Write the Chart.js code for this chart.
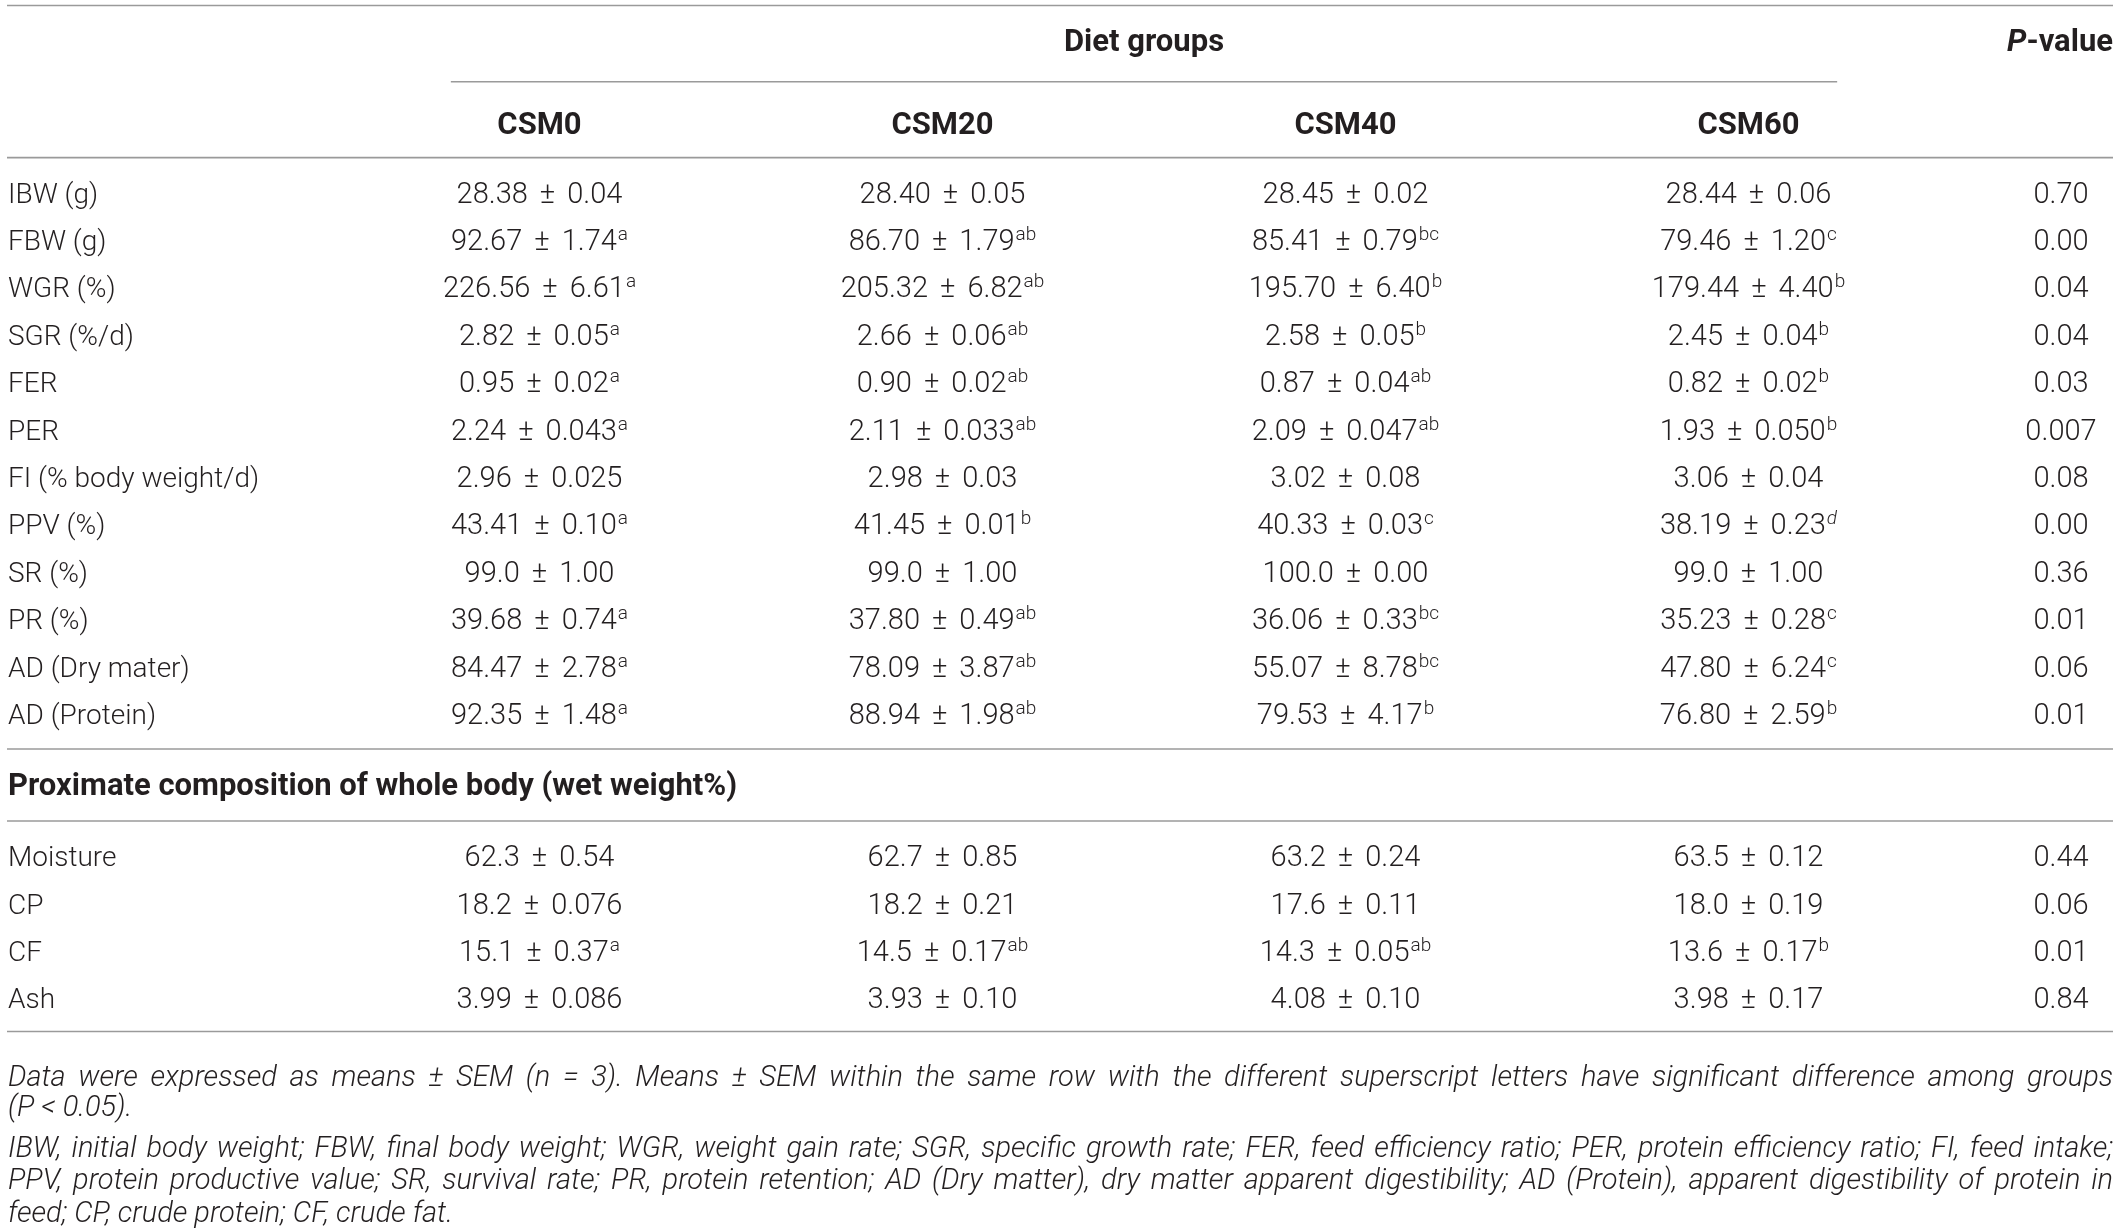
<!DOCTYPE html>
<html>
<head>
<meta charset="utf-8">
<title>Growth performance table</title>
<script src="https://cdn.jsdelivr.net/npm/chart.js@4.4.1/dist/chart.umd.min.js"></script>
<style>
  html, body { margin: 0; padding: 0; background: #ffffff; }
  #wrap { width: 2119px; height: 1232px; position: relative; }
</style>
</head>
<body>
<div id="wrap"><canvas id="tableChart"></canvas></div>
<script>
// table content
const groups = ['CSM0', 'CSM20', 'CSM40', 'CSM60'];
const growthRows = ['IBW (g)', 'FBW (g)', 'WGR (%)', 'SGR (%/d)', 'FER', 'PER', 'FI (% body weight/d)',
    'PPV (%)', 'SR (%)', 'PR (%)', 'AD (Dry mater)', 'AD (Protein)'];
const bodyRows = ['Moisture', 'CP', 'CF', 'Ash'];
const sectionTitle = 'Proximate composition of whole body (wet weight%)';

const csm0Mean = ['28.38', '92.67', '226.56', '2.82', '0.95', '2.24', '2.96', '43.41', '99.0', '39.68', '84.47', '92.35', '62.3', '18.2', '15.1', '3.99'];
const csm0Sem = ['0.04', '1.74', '6.61', '0.05', '0.02', '0.043', '0.025', '0.10', '1.00', '0.74', '2.78', '1.48', '0.54', '0.076', '0.37', '0.086'];
const csm0Sig = ['', 'a', 'a', 'a', 'a', 'a', '', 'a', '', 'a', 'a', 'a', '', '', 'a', ''];

const csm20Mean = ['28.40', '86.70', '205.32', '2.66', '0.90', '2.11', '2.98', '41.45', '99.0', '37.80', '78.09', '88.94', '62.7', '18.2', '14.5', '3.93'];
const csm20Sem = ['0.05', '1.79', '6.82', '0.06', '0.02', '0.033', '0.03', '0.01', '1.00', '0.49', '3.87', '1.98', '0.85', '0.21', '0.17', '0.10'];
const csm20Sig = ['', 'ab', 'ab', 'ab', 'ab', 'ab', '', 'b', '', 'ab', 'ab', 'ab', '', '', 'ab', ''];

const csm40Mean = ['28.45', '85.41', '195.70', '2.58', '0.87', '2.09', '3.02', '40.33', '100.0', '36.06', '55.07', '79.53', '63.2', '17.6', '14.3', '4.08'];
const csm40Sem = ['0.02', '0.79', '6.40', '0.05', '0.04', '0.047', '0.08', '0.03', '0.00', '0.33', '8.78', '4.17', '0.24', '0.11', '0.05', '0.10'];
const csm40Sig = ['', 'bc', 'b', 'b', 'ab', 'ab', '', 'c', '', 'bc', 'bc', 'b', '', '', 'ab', ''];

const csm60Mean = ['28.44', '79.46', '179.44', '2.45', '0.82', '1.93', '3.06', '38.19', '99.0', '35.23', '47.80', '76.80', '63.5', '18.0', '13.6', '3.98'];
const csm60Sem = ['0.06', '1.20', '4.40', '0.04', '0.02', '0.050', '0.04', '0.23', '1.00', '0.28', '6.24', '2.59', '0.12', '0.19', '0.17', '0.17'];
const csm60Sig = ['', 'c', 'b', 'b', 'b', 'b', '', 'd', '', 'c', 'c', 'b', '', '', 'b', ''];

const pValues = ['0.70', '0.00', '0.04', '0.04', '0.03', '0.007', '0.08', '0.00', '0.36', '0.01', '0.06', '0.01', '0.44', '0.06', '0.01', '0.84'];

const footnotes = [
    'Data were expressed as means \u00b1 SEM (n = 3). Means \u00b1 SEM within the same row with the different superscript letters have significant difference among groups',
    '(P < 0.05).',
    'IBW, initial body weight; FBW, final body weight; WGR, weight gain rate; SGR, specific growth rate; FER, feed efficiency ratio; PER, protein efficiency ratio; FI, feed intake;',
    'PPV, protein productive value; SR, survival rate; PR, protein retention; AD (Dry matter), dry matter apparent digestibility; AD (Protein), apparent digestibility of protein in',
    'feed; CP, crude protein; CF, crude fat.'
];
const justifiedNotes = [true, false, true, true, false];

const means = [csm0Mean, csm20Mean, csm40Mean, csm60Mean];
const sems = [csm0Sem, csm20Sem, csm40Sem, csm60Sem];
const sigs = [csm0Sig, csm20Sig, csm40Sig, csm60Sig];

// y slots: growth rows, two spacer slots for the section break, body rows
const rowSlots = growthRows.concat(['gap1', 'gap2'], bodyRows);
const dataRows = growthRows.concat(bodyRows);

const TEXT = '#231f20';
const RULE = '#9a9a9a';
const FONT = 'Roboto, "Liberation Sans", sans-serif';
const LIGHT = '300 28px ' + FONT;
const NUM = '300 29px ' + FONT;
const BOLD = 'bold 31px ' + FONT;

function drawRule(ctx, x0, x1, y) {
    ctx.save();
    ctx.strokeStyle = RULE;
    ctx.lineWidth = 1.6;
    ctx.beginPath();
    ctx.moveTo(x0, y);
    ctx.lineTo(x1, y);
    ctx.stroke();
    ctx.restore();
}

// text whose visual centre sits on y
function textAt(ctx, str, x, y, font, align) {
    ctx.font = font;
    ctx.textAlign = align;
    ctx.textBaseline = 'alphabetic';
    ctx.fillText(str, x, y + 10);
}

// value text "mean ± sem" with optional superscript letters, centred on x
function drawCell(ctx, x, y, mean, sem, sig, italicSig) {
    const gap = 12;
    ctx.font = NUM;
    const wMean = ctx.measureText(mean).width;
    const wPm = ctx.measureText('\u00b1').width;
    const wSem = ctx.measureText(sem).width;
    const wMain = wMean + gap + wPm + gap + wSem;
    const supFont = (italicSig ? 'italic ' : '') + '300 19px ' + FONT;
    ctx.font = supFont;
    const wSup = sig ? ctx.measureText(sig).width + 1 : 0;
    let cx = x - (wMain + wSup) / 2;
    ctx.textAlign = 'left';
    ctx.textBaseline = 'alphabetic';
    ctx.font = NUM;
    ctx.fillText(mean, cx, y + 10);
    cx += wMean + gap;
    ctx.fillText('\u00b1', cx, y + 10);
    cx += wPm + gap;
    ctx.fillText(sem, cx, y + 10);
    cx += wSem;
    if (sig) {
        ctx.font = supFont;
        ctx.fillText(sig, cx + 1, y);
    }
}

function drawJustified(ctx, text, x0, x1, y) {
    const words = text.split(' ');
    const widths = words.map(w => ctx.measureText(w).width);
    const total = widths.reduce((a, b) => a + b, 0);
    const gap = (x1 - x0 - total) / (words.length - 1);
    let x = x0;
    words.forEach((w, i) => {
        ctx.fillText(w, x, y);
        x += widths[i] + gap;
    });
}

const tablePlugin = {
    id: 'tableText',
    afterDraw(chart) {
        const ctx = chart.ctx;
        const xs = chart.scales.x;
        const ys = chart.scales.y;
        const left = 7;
        const right = chart.width - 6;

        ctx.save();
        ctx.fillStyle = TEXT;

        // rules
        drawRule(ctx, left, right, ys.getPixelForValue(-3.95));
        drawRule(ctx, xs.getPixelForValue(-0.22), xs.getPixelForValue(3.22), ys.getPixelForValue(-2.34));
        drawRule(ctx, left, right, ys.getPixelForValue(-0.74));
        drawRule(ctx, left, right, ys.getPixelForValue(11.74));
        drawRule(ctx, left, right, ys.getPixelForValue(13.26));
        drawRule(ctx, left, right, ys.getPixelForValue(17.7));

        // header
        const yTop = ys.getPixelForValue(-3.2);
        textAt(ctx, 'Diet groups', (xs.getPixelForValue(-0.22) + xs.getPixelForValue(3.22)) / 2, yTop, BOLD, 'center');
        textAt(ctx, '-value', right, yTop, BOLD, 'right');
        const wVal = ctx.measureText('-value').width;
        textAt(ctx, 'P', right - wVal, yTop, 'italic ' + BOLD, 'right');

        const yGroups = ys.getPixelForValue(-1.46);
        groups.forEach(g => textAt(ctx, g, xs.getPixelForValue(g), yGroups, BOLD, 'center'));

        // row labels
        dataRows.forEach(r => textAt(ctx, r, left + 1, ys.getPixelForValue(r), LIGHT, 'left'));

        // section title
        textAt(ctx, sectionTitle, left + 1, ys.getPixelForValue(12.5), BOLD, 'left');

        // cells, placed at the scatter points
        chart.data.datasets.forEach((ds, di) => {
            const meta = chart.getDatasetMeta(di);
            meta.data.forEach((pt, ri) => {
                drawCell(ctx, pt.x, pt.y, means[di][ri], sems[di][ri], sigs[di][ri], sigs[di][ri] === 'd');
            });
        });

        // P-values
        dataRows.forEach((r, i) => textAt(ctx, pValues[i], right - 52, ys.getPixelForValue(r), NUM, 'center'));

        // footnotes
        const yRule = ys.getPixelForValue(17.7);
        const noteOffsets = [45, 75, 116, 148, 181];
        footnotes.forEach((t, i) => {
            const y = yRule + noteOffsets[i] + 10;
            let size = 29;
            ctx.font = 'italic 300 ' + size + 'px ' + FONT;
            ctx.textAlign = 'left';
            ctx.textBaseline = 'alphabetic';
            if (justifiedNotes[i]) {
                // shrink if the line will not fit with normal spacing
                while (ctx.measureText(t).width > right - left - 20 && size > 22) {
                    size -= 0.5;
                    ctx.font = 'italic 300 ' + size + 'px ' + FONT;
                }
                drawJustified(ctx, t, left + 1, right, y);
            } else {
                ctx.fillText(t, left + 1, y);
            }
        });

        ctx.restore();
    }
};

function buildTable() {
    const datasets = groups.map(g => ({
        label: g,
        data: dataRows.map(r => ({ x: g, y: r })),
        pointRadius: 0,
        pointHoverRadius: 0
    }));

    new Chart(document.getElementById('tableChart'), {
        type: 'scatter',
        data: { datasets: datasets },
        options: {
            responsive: true,
            maintainAspectRatio: false,
            animation: false,
            events: [],
            layout: { padding: { left: 338, right: 169, top: 169, bottom: 210 } },
            scales: {
                x: { type: 'category', labels: groups, offset: true, display: false },
                y: { type: 'category', labels: rowSlots, offset: true, display: false }
            },
            plugins: {
                legend: { display: false },
                tooltip: { enabled: false }
            }
        },
        plugins: [tablePlugin]
    });
}

buildTable();
</script>
</body>
</html>
